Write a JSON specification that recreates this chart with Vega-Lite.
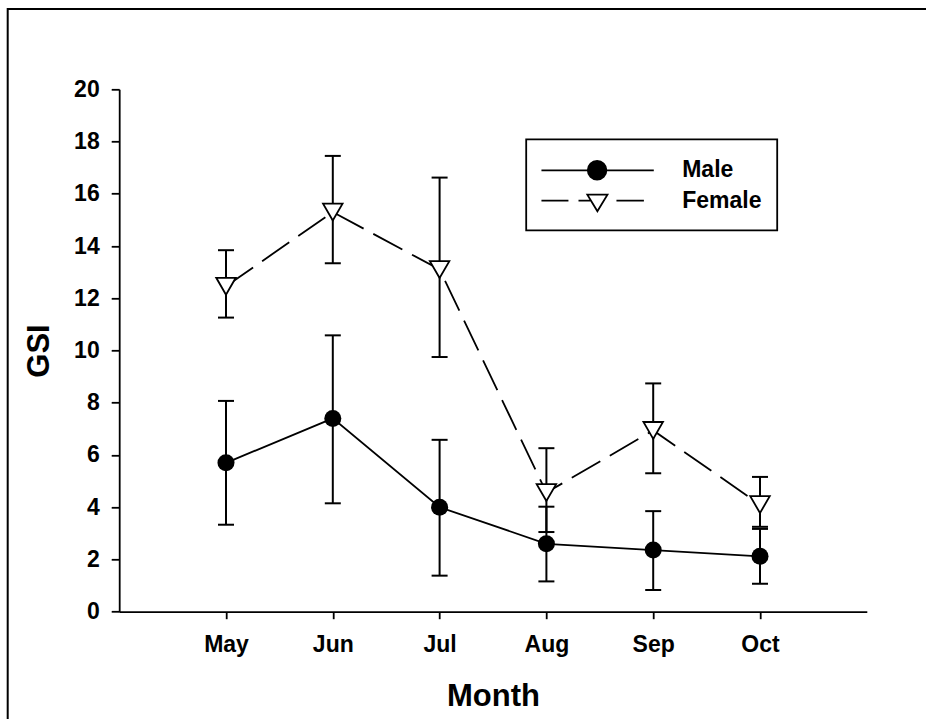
{
  "$schema": "https://vega.github.io/schema/vega-lite/v6.json",
  "width": 747.6,
  "height": 522.4,
  "autosize": {"type": "none"},
  "padding": {"left": 119.2, "top": 89.3, "right": 59.2, "bottom": 107.3},
  "background": "white",
  "config": {
    "view": {"stroke": null},
    "font": "Liberation Sans",
    "axis": {
      "domainColor": "black", "domainWidth": 1.8, "tickColor": "black", "tickWidth": 1.8,
      "labelColor": "black", "titleColor": "black", "labelFont": "Liberation Sans", "titleFont": "Liberation Sans",
      "labelFontWeight": "bold", "titleFontWeight": "bold", "labelFontSize": 23, "titleFontSize": 31, "grid": false
    },
    "legend": {"strokeWidth": 1.8}
  },
  "datasets": {
    "gsi": [
      {"series": "Male", "month": "May", "m": 1, "mean": 5.70, "lo": 3.33, "hi": 8.07},
      {"series": "Male", "month": "Jun", "m": 2, "mean": 7.40, "lo": 4.15, "hi": 10.58},
      {"series": "Male", "month": "Jul", "m": 3, "mean": 4.00, "lo": 1.38, "hi": 6.58},
      {"series": "Male", "month": "Aug", "m": 4, "mean": 2.60, "lo": 1.16, "hi": 4.02},
      {"series": "Male", "month": "Sep", "m": 5, "mean": 2.36, "lo": 0.83, "hi": 3.85},
      {"series": "Male", "month": "Oct", "m": 6, "mean": 2.12, "lo": 1.07, "hi": 3.17},
      {"series": "Female", "month": "May", "m": 1, "mean": 12.46, "lo": 11.26, "hi": 13.84},
      {"series": "Female", "month": "Jun", "m": 2, "mean": 15.30, "lo": 13.34, "hi": 17.45},
      {"series": "Female", "month": "Jul", "m": 3, "mean": 13.10, "lo": 9.75, "hi": 16.62},
      {"series": "Female", "month": "Aug", "m": 4, "mean": 4.56, "lo": 3.05, "hi": 6.26},
      {"series": "Female", "month": "Sep", "m": 5, "mean": 6.94, "lo": 5.30, "hi": 8.74},
      {"series": "Female", "month": "Oct", "m": 6, "mean": 4.10, "lo": 3.25, "hi": 5.16}
    ],
    "frame": [
      {"fx": -1.044, "fy": -4.2, "o": 0},
      {"fx": -1.044, "fy": 23.07, "o": 1},
      {"fx": 7.6, "fy": 23.07, "o": 2}
    ]
  },
  "layer": [
    {
      "data": {"name": "frame"},
      "mark": {"type": "line", "color": "black", "strokeWidth": 2},
      "encoding": {
        "x": {"field": "fx", "type": "quantitative"},
        "y": {"field": "fy", "type": "quantitative"},
        "order": {"field": "o", "type": "quantitative"}
      }
    },
    {
      "data": {"name": "gsi"},
      "encoding": {
        "x": {
          "field": "m", "type": "quantitative",
          "scale": {"domain": [0, 7], "nice": false, "zero": false},
          "axis": {
            "values": [1, 2, 3, 4, 5, 6],
            "labelExpr": "['', 'May', 'Jun', 'Jul', 'Aug', 'Sep', 'Oct'][datum.value]",
            "title": "Month", "tickSize": 7, "labelPadding": 15, "labelFlush": false, "labelOverlap": false, "titlePadding": 25
          }
        },
        "y": {
          "field": "mean", "type": "quantitative",
          "scale": {"domain": [0, 20], "nice": false},
          "axis": {"values": [0, 2, 4, 6, 8, 10, 12, 14, 16, 18, 20], "title": "GSI", "tickSize": 8, "labelPadding": 12, "titlePadding": 18}
        }
      },
      "layer": [
        {
          "transform": [{"filter": "datum.series == 'Male'"}],
          "mark": {"type": "line", "color": "black", "strokeWidth": 1.8}
        },
        {
          "transform": [{"filter": "datum.series == 'Female'"}],
          "mark": {"type": "line", "color": "black", "strokeWidth": 1.8, "strokeDash": [33, 11]}
        },
        {
          "mark": {"type": "rule", "color": "black", "strokeWidth": 2},
          "encoding": {"y": {"field": "lo", "type": "quantitative"}, "y2": {"field": "hi"}}
        },
        {
          "mark": {"type": "tick", "orient": "horizontal", "color": "black", "size": 16, "thickness": 2, "opacity": 1},
          "encoding": {"y": {"field": "lo", "type": "quantitative"}}
        },
        {
          "mark": {"type": "tick", "orient": "horizontal", "color": "black", "size": 16, "thickness": 2, "opacity": 1},
          "encoding": {"y": {"field": "hi", "type": "quantitative"}}
        },
        {
          "transform": [{"filter": "datum.series == 'Male'"}],
          "mark": {"type": "point", "shape": "circle", "filled": true, "color": "black", "size": 290, "opacity": 1}
        },
        {
          "transform": [{"filter": "datum.series == 'Female'"}],
          "mark": {"type": "point", "shape": "triangle-down", "filled": false, "fill": "white", "stroke": "black", "strokeWidth": 1.8, "size": 380, "opacity": 1}
        },
        {
          "transform": [{"filter": "false"}],
          "mark": {"type": "point", "filled": true, "stroke": "black", "strokeWidth": 1.8, "size": 900, "opacity": 1},
          "encoding": {
            "shape": {
              "field": "series", "type": "nominal",
              "scale": {
                "domain": ["Male", "Female"],
                "range": [
                  "M-1.05,0L6.44,0M2.04,0A0.62,0.62 0 1,0 3.28,0A0.62,0.62 0 1,0 2.04,0Z",
                  "M-1.05,0L0.75,0M1.42,0L2.2,0M3.95,0L5.78,0M2.01,-0.4L3.35,-0.4L2.68,0.7Z"
                ]
              },
              "legend": {
                "title": null, "orient": "none", "legendX": 407, "legendY": 50, "padding": 15,
                "strokeColor": "black", "labelOffset": 109, "rowPadding": 1.4,
                "labelFont": "Liberation Sans", "labelFontWeight": "bold", "labelFontSize": 23, "labelColor": "black",
                "symbolSize": 900, "symbolStrokeColor": "black", "symbolStrokeWidth": 1.8, "symbolOpacity": 1,
                "encode": {"symbols": {"update": {"stroke": {"value": "black"}, "strokeWidth": {"value": 1.8}, "opacity": {"value": 1}}}}
              }
            },
            "fill": {
              "field": "series", "type": "nominal",
              "scale": {"domain": ["Male", "Female"], "range": ["black", "white"]},
              "legend": {
                "title": null, "orient": "none", "legendX": 407, "legendY": 50, "padding": 15,
                "strokeColor": "black", "labelOffset": 109, "rowPadding": 1.4,
                "labelFont": "Liberation Sans", "labelFontWeight": "bold", "labelFontSize": 23, "labelColor": "black",
                "symbolSize": 900, "symbolStrokeColor": "black", "symbolStrokeWidth": 1.8, "symbolOpacity": 1,
                "encode": {"symbols": {"update": {"stroke": {"value": "black"}, "strokeWidth": {"value": 1.8}, "opacity": {"value": 1}}}}
              }
            }
          }
        }
      ]
    }
  ]
}
